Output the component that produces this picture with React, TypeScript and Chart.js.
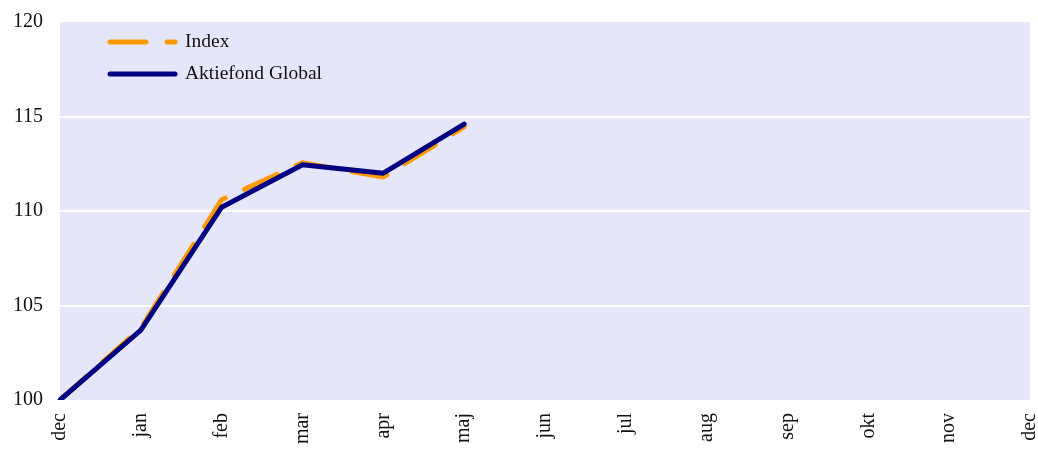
import { useEffect, useRef } from "react";
import { Chart, registerables } from "chart.js";
Chart.register(...registerables);

const categories = ["dec", "jan", "feb", "mar", "apr", "maj", "jun", "jul", "aug", "sep", "okt", "nov", "dec"];
const indexValues = [100, 103.8, 110.6, 112.55, 111.8, 114.45];
const fundValues = [100, 103.7, 110.2, 112.45, 112.0, 114.6];
const seriesNames = ["Index", "Aktiefond Global"];
const seriesColors = ["#ff9900", "#000080"];
const yMin = 100;
const yMax = 120;
const yStep = 5;

const FONT = "'Liberation Serif', 'Times New Roman', serif";

export default function App() {
  const ref = useRef<HTMLCanvasElement | null>(null);
  useEffect(() => {
    if (!ref.current) return;
    const bgPlugin = {
      id: "bg",
      beforeDraw(chart: any) {
        const { ctx, chartArea } = chart;
        ctx.save();
        ctx.fillStyle = "#e6e6fa";
        ctx.fillRect(chartArea.left, chartArea.top, chartArea.right - chartArea.left, chartArea.bottom - chartArea.top);
        ctx.restore();
      },
    };
    const legendPlugin = {
      id: "customLegend",
      afterDraw(chart: any) {
        const { ctx } = chart;
        ctx.save();
        chart.data.datasets.forEach((ds: any, i: number) => {
          const y = 42 + i * 32;
          ctx.beginPath();
          ctx.strokeStyle = ds.borderColor;
          ctx.lineWidth = 5;
          ctx.lineCap = "round";
          ctx.setLineDash(ds.borderDash || []);
          ctx.moveTo(110, y);
          ctx.lineTo(175, y);
          ctx.stroke();
          ctx.setLineDash([]);
          ctx.fillStyle = "#111111";
          ctx.font = `19.5px ${FONT}`;
          ctx.textBaseline = "middle";
          ctx.textAlign = "left";
          ctx.fillText(ds.label, 185, y);
        });
        ctx.restore();
      },
    };
    const chart = new Chart(ref.current, {
      type: "line",
      data: {
        labels: categories,
        datasets: [
          {
            label: seriesNames[0],
            data: indexValues,
            borderColor: seriesColors[0],
            backgroundColor: seriesColors[0],
            borderWidth: 5,
            borderDash: [36, 21],
            borderCapStyle: "round",
            borderJoinStyle: "round",
            pointRadius: 0,
            tension: 0,
            order: 1,
          },
          {
            label: seriesNames[1],
            data: fundValues,
            borderColor: seriesColors[1],
            backgroundColor: seriesColors[1],
            borderWidth: 5,
            borderCapStyle: "round",
            borderJoinStyle: "round",
            pointRadius: 0,
            tension: 0,
            order: 0,
          },
        ],
      },
      options: {
        responsive: false,
        animation: false,
        layout: { padding: { top: 22, right: 8, left: 0, bottom: 0 } },
        plugins: { legend: { display: false }, tooltip: { enabled: false } },
        scales: {
          x: {
            type: "category",
            offset: false,
            grid: { display: false },
            border: { display: false },
            ticks: {
              autoSkip: false,
              maxRotation: 90,
              minRotation: 90,
              padding: 5,
              color: "#111111",
              font: { family: FONT, size: 20 },
            },
            afterFit(s: any) {
              s.height = 49;
              s.paddingRight = 0;
              s.paddingLeft = 0;
              s.paddingTop = 0;
              s.paddingBottom = 0;
            },
          },
          y: {
            min: yMin,
            max: yMax,
            border: { display: false },
            grid: {
              drawTicks: false,
              lineWidth: 2,
              color: (c: any) => (c.tick && (c.tick.value === yMin || c.tick.value === yMax) ? "rgba(0,0,0,0)" : "#ffffff"),
            },
            ticks: {
              stepSize: yStep,
              padding: 17,
              color: "#111111",
              font: { family: FONT, size: 20 },
            },
            afterFit(s: any) {
              s.width = 60;
              s.paddingTop = 0;
              s.paddingBottom = 0;
            },
          },
        },
      },
      plugins: [bgPlugin, legendPlugin],
    });
    return () => chart.destroy();
  }, []);
  return (
    <div style={{ position: "absolute", left: 0, top: 0, width: 1038, height: 449 }}>
      <canvas ref={ref} width={1038} height={449} />
    </div>
  );
}
